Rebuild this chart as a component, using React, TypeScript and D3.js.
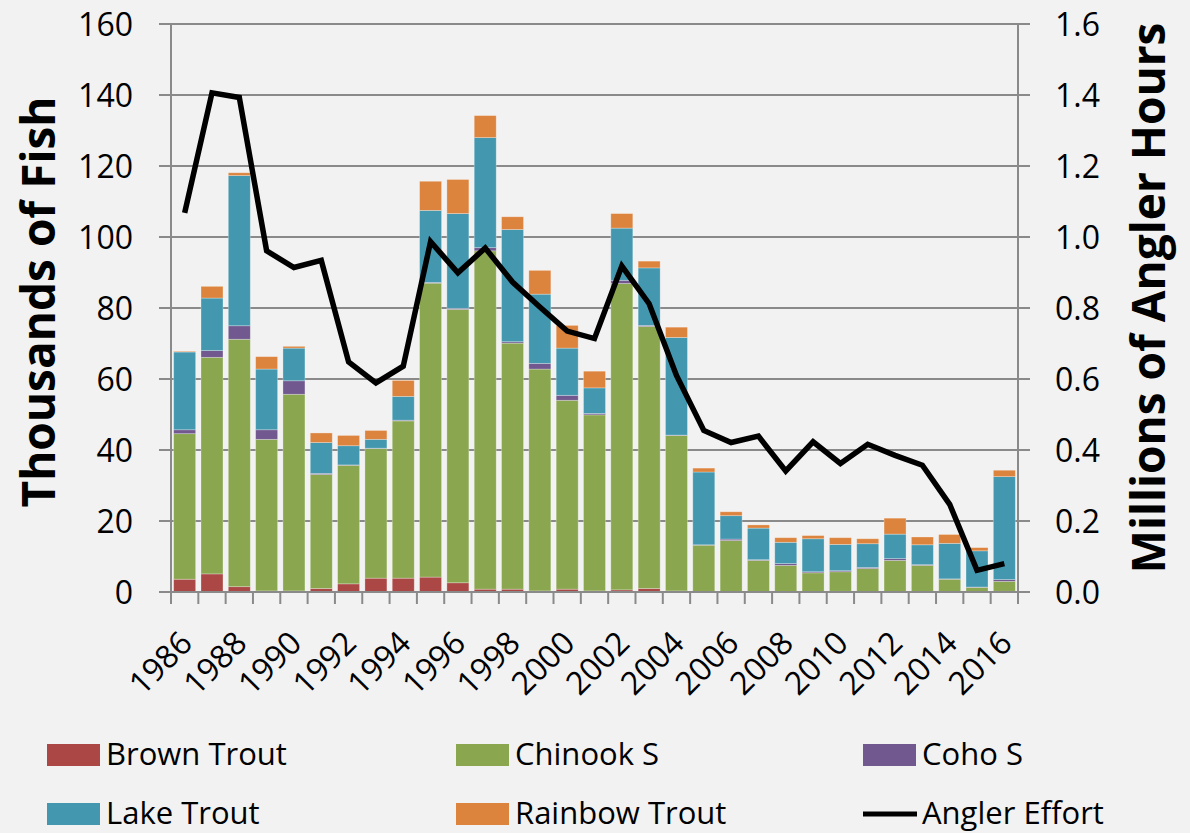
import * as d3 from "d3";

// Lake Michigan style harvest chart: stacked bars (thousands of fish) + angler effort line
const years = d3.range(1986, 2017).map(String);

const brownTrout = [3.6, 5.1, 1.5, 0.3, 0.3, 1.0, 2.3, 3.9, 3.9, 4.2, 2.6, 0.8, 0.8, 0.3, 0.8, 0.3, 0.6, 1.0, 0.3, 0.1, 0.1, 0.1, 0.1, 0.1, 0.2, 0.1, 0.1, 0.1, 0.1, 0.1, 0.2];
const chinook = [41.0, 61.0, 69.7, 42.7, 55.4, 32.1, 33.4, 36.5, 44.3, 82.8, 77.0, 95.3, 69.3, 62.5, 53.2, 49.6, 86.3, 73.8, 43.8, 13.1, 14.4, 8.8, 7.4, 5.3, 5.5, 6.5, 8.8, 7.4, 3.5, 1.2, 2.8];
const coho = [1.1, 1.9, 3.8, 2.7, 3.8, 0.3, 0.1, 0.1, 0.2, 0.2, 0.3, 0.9, 0.4, 1.6, 1.4, 0.4, 0.9, 0.3, 0.1, 0.1, 0.4, 0.2, 0.5, 0.3, 0.3, 0.3, 0.5, 0.2, 0.1, 0.1, 0.5];
const lakeTrout = [21.9, 14.8, 42.3, 17.1, 9.2, 8.7, 5.4, 2.5, 6.7, 20.3, 26.7, 31.0, 31.6, 19.5, 13.3, 7.2, 14.7, 16.2, 27.5, 20.5, 6.6, 8.9, 6.0, 9.3, 7.4, 6.7, 6.9, 5.6, 10.0, 10.2, 29.0];
const rainbowTrout = [0.2, 3.3, 0.8, 3.5, 0.5, 2.7, 2.9, 2.5, 4.5, 8.2, 9.6, 6.2, 3.6, 6.7, 6.4, 4.7, 4.1, 1.9, 2.9, 1.1, 1.1, 0.9, 1.3, 0.9, 1.9, 1.4, 4.5, 2.2, 2.5, 0.9, 1.8];
// millions of angler hours
const anglerEffort = [1.068, 1.406, 1.393, 0.961, 0.914, 0.934, 0.648, 0.589, 0.636, 0.987, 0.899, 0.969, 0.873, 0.803, 0.735, 0.714, 0.918, 0.812, 0.61, 0.455, 0.421, 0.439, 0.341, 0.423, 0.362, 0.416, 0.385, 0.357, 0.247, 0.061, 0.08];

const seriesNames = ["Brown Trout", "Chinook S", "Coho S", "Lake Trout", "Rainbow Trout"];
const seriesValues = [brownTrout, chinook, coho, lakeTrout, rainbowTrout];
const seriesColors = ["#AB4744", "#8AA64F", "#71588F", "#4398B0", "#DC843E"];

const leftTicks = [0, 20, 40, 60, 80, 100, 120, 140, 160];
const rightTicks = [0, 0.2, 0.4, 0.6, 0.8, 1.0, 1.2, 1.4, 1.6];

const W = 1190;
const H = 833;
const plot = { left: 171, right: 1018, top: 24, bottom: 592 };
const FONT = "'Open Sans', 'Noto Sans', sans-serif";
const GRID = "#8a8a8a";

export default function App() {
	const x = d3
		.scaleBand<string>()
		.domain(years)
		.range([plot.left, plot.right])
		.paddingInner(0.195)
		.paddingOuter(0.0975);
	const y = d3.scaleLinear().domain([0, 160]).range([plot.bottom, plot.top]);
	const y2 = d3.scaleLinear().domain([0, 1.6]).range([plot.bottom, plot.top]);

	// build table for stack
	const table = years.map((yr, i) => {
		const row: any = { year: yr };
		seriesNames.forEach((name, k) => (row[name] = seriesValues[k][i]));
		return row;
	});
	const stacked = d3.stack<any>().keys(seriesNames)(table);

	const line = d3
		.line<number>()
		.x((_, i) => (x(years[i]) as number) + x.bandwidth() / 2)
		.y((d) => y2(d));

	const step = x.step();
	const boundaries = d3.range(years.length + 1).map((i) => plot.left + i * step);

	const legendItems = [
		{ name: "Brown Trout", col: 0, row: 0, color: seriesColors[0] },
		{ name: "Chinook S", col: 1, row: 0, color: seriesColors[1] },
		{ name: "Coho S", col: 2, row: 0, color: seriesColors[2] },
		{ name: "Lake Trout", col: 0, row: 1, color: seriesColors[3] },
		{ name: "Rainbow Trout", col: 1, row: 1, color: seriesColors[4] },
		{ name: "Angler Effort", col: 2, row: 1, color: "line" },
	];
	const legendX = [47, 456, 863];
	const legendY = [744, 803];

	return (
		<svg
			width={W}
			height={H}
			style={{ position: "absolute", left: 0, top: 0, background: "#f2f2f2" }}
			fontFamily={FONT}
		>
			<rect x={0} y={0} width={W} height={H} fill="#f2f2f2" />

			{/* gridlines */}
			{leftTicks.map((t) => (
				<line key={"g" + t} x1={plot.left - 12} x2={plot.right + 12} y1={y(t)} y2={y(t)} stroke={GRID} strokeWidth={2} />
			))}

			{/* bars */}
			{stacked.map((s, k) => (
				<g key={s.key} fill={seriesColors[k]}>
					{s.map((d, i) => (
						<rect
							key={i}
							x={x(years[i])}
							y={y(d[1])}
							width={x.bandwidth()}
							height={Math.max(0, y(d[0]) - y(d[1]))}
							stroke="#ffffff"
							strokeOpacity={0.35}
							strokeWidth={0.8}
						/>
					))}
				</g>
			))}

			{/* axes */}
			<line x1={plot.left} x2={plot.left} y1={plot.top} y2={plot.bottom} stroke={GRID} strokeWidth={2} />
			<line x1={plot.right} x2={plot.right} y1={plot.top} y2={plot.bottom + 12} stroke={GRID} strokeWidth={2} />
			<line x1={plot.left} x2={plot.right} y1={plot.bottom} y2={plot.bottom} stroke={GRID} strokeWidth={2} />
			{boundaries.map((bx, i) => (
				<line key={"t" + i} x1={bx} x2={bx} y1={plot.bottom} y2={plot.bottom + 12} stroke={GRID} strokeWidth={2} />
			))}

			{/* effort line */}
			<path d={line(anglerEffort) || ""} fill="none" stroke="#000" strokeWidth={5.5} strokeLinejoin="miter" />

			{/* left tick labels */}
			{leftTicks.map((t) => (
				<text key={"l" + t} x={133} y={y(t)} dy="0.36em" textAnchor="end" fontSize={32} fill="#000">
					{t}
				</text>
			))}
			{rightTicks.map((t) => (
				<text key={"r" + t} x={1055} y={y2(t)} dy="0.36em" textAnchor="start" fontSize={32} fill="#000">
					{t.toFixed(1)}
				</text>
			))}

			{/* x labels, every other year */}
			{years
				.filter((_, i) => i % 2 === 0)
				.map((yr) => {
					const cx = (x(yr) as number) + x.bandwidth() / 2;
					return (
						<text
							key={yr}
							transform={`translate(${cx + 9.5},${645}) rotate(-45)`}
							textAnchor="end"
							fontSize={32}
							fill="#000"
						>
							{yr}
						</text>
					);
				})}

			{/* axis titles */}
			<text transform={`translate(55,${302}) rotate(-90)`} textAnchor="middle" fontSize={46} fontWeight="bold" fill="#000">
				Thousands of Fish
			</text>
			<text transform={`translate(1165,${298}) rotate(-90)`} textAnchor="middle" fontSize={46} fontWeight="bold" fill="#000">
				Millions of Angler Hours
			</text>

			{/* legend */}
			{legendItems.map((it) => {
				const lx = legendX[it.col];
				const ly = legendY[it.row];
				return (
					<g key={it.name}>
						{it.color === "line" ? (
							<line x1={lx} x2={lx + 54} y1={ly + 11} y2={ly + 11} stroke="#000" strokeWidth={5} />
						) : (
							<rect x={lx} y={ly} width={53} height={22} fill={it.color} />
						)}
						<text x={lx + 59} y={ly + 20.5} fontSize={31} fill="#000">
							{it.name}
						</text>
					</g>
				);
			})}
		</svg>
	);
}
